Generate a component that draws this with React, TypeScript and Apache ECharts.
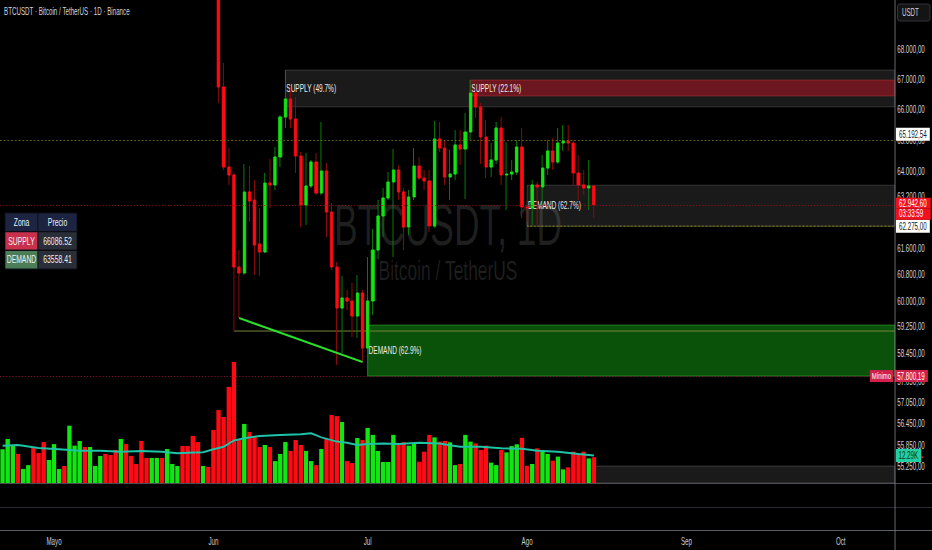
import React, { useEffect, useRef } from 'react';
import * as echarts from 'echarts';

// canvas is drawn 1500 wide and squeezed to 932 like the reference
const W = 1500;
const H = 550;
const SX = 932 / W;
const U = (x: number) => (x * W) / 932;
const FONT = "'Liberation Sans', Arial, sans-serif";

const FIRST_DAY = '2024-04-21';
const DAY_COUNT = 174;
const MONTH_NAMES = ['Ene', 'Feb', 'Mar', 'Abr', 'Mayo', 'Jun', 'Jul', 'Ago', 'Sep', 'Oct', 'Nov', 'Dic'];

const CANDLE_START = '2024-06-02';
// [open, close, low, high]
const CANDLES: number[][] = [
  [70500, 66741, 66211, 70900],
  [66741, 64137, 64041, 67543],
  [64137, 63882, 63565, 64745],
  [63882, 61024, 59110, 63950],
  [61024, 60841, 59494, 61542],
  [60841, 63344, 60781, 64232],
  [63344, 63061, 62405, 64168],
  [63092, 61695, 60781, 63723],
  [61726, 61480, 60751, 62842],
  [61480, 63628, 61450, 63945],
  [63628, 63565, 62842, 64392],
  [63565, 64456, 63407, 64778],
  [64456, 65753, 64137, 65818],
  [65753, 66343, 65393, 67307],
  [66343, 65687, 65393, 66741],
  [65687, 64488, 63945, 66409],
  [64488, 62936, 62250, 64617],
  [62936, 63533, 62312, 64585],
  [63533, 64296, 63470, 64360],
  [64296, 63312, 63249, 64585],
  [63312, 64009, 63249, 65589],
  [64009, 62717, 61941, 64264],
  [62717, 61024, 60932, 62998],
  [61024, 59791, 58119, 61175],
  [59791, 60090, 58468, 60751],
  [60090, 60000, 59731, 60330],
  [60000, 59554, 58935, 60540],
  [59554, 60239, 58906, 60781],
  [60239, 58613, 58206, 60330],
  [58613, 60000, 57800.19, 61328],
  [60000, 61542, 59584, 62188],
  [61542, 62592, 61267, 63092],
  [62592, 63155, 61941, 63470],
  [63155, 63660, 63092, 63977],
  [63660, 64041, 61328, 64713],
  [64041, 63344, 63092, 64200],
  [63344, 62250, 61542, 63470],
  [62250, 63187, 62003, 63407],
  [63187, 64168, 63092, 64745],
  [64168, 63786, 63723, 64456],
  [63786, 63691, 63407, 64041],
  [63691, 62281, 62095, 64041],
  [62281, 65036, 62219, 65622],
  [65036, 64745, 64617, 65589],
  [64745, 63818, 63565, 65003],
  [63818, 63913, 63092, 64681],
  [63913, 64842, 63723, 65328],
  [64842, 64713, 64200, 65328],
  [64713, 65263, 63123, 65884],
  [65263, 66541, 65003, 66973],
  [66541, 66080, 65720, 66874],
  [66080, 65101, 64232, 66211],
  [65101, 64137, 63786, 65655],
  [64137, 64360, 63818, 64906],
  [64360, 65393, 64232, 65589],
  [65393, 63882, 63565, 65753],
  [63882, 63913, 62779, 64939],
  [63913, 63977, 63723, 64360],
  [63977, 64778, 63882, 65003],
  [64778, 62873, 62529, 65393],
  [62873, 62842, 62405, 63092],
  [62842, 63565, 62312, 63723],
  [63565, 63502, 62312, 63660],
  [63502, 64105, 62936, 64520],
  [64105, 64649, 63882, 65003],
  [64649, 64296, 64041, 65069],
  [64296, 64906, 64232, 65393],
  [64906, 64971, 64649, 65491],
  [64971, 64906, 64649, 65491],
  [64906, 63945, 63565, 65003],
  [63945, 63565, 63092, 64520],
  [63565, 63470, 63249, 64041],
  [63470, 63533, 62779, 64360],
  [63533, 62942.6, 62529, 63565],
];

// volume in thousands, from FIRST_DAY
const VOLUME_K = [
  15.1, 19.7, 16.7, 13.0, 6.3, 8.0, 15.8, 13.4, 18.3, 10.3,
  17.4, 6.3, 7.6, 25.6, 16.7, 18.8, 16.1, 16.1, 7.6, 12.1,
  13.0, 12.5, 14.8, 19.7, 17.4, 12.1, 8.5, 18.8, 11.2, 11.2,
  11.2, 11.2, 15.2, 8.5, 7.6, 16.5, 16.5, 21.0, 18.3, 7.6,
  7.2, 23.7, 32.6, 29.5, 42.9, 54.1, 19.2, 26.4, 22.8, 20.6,
  16.1, 17.0, 16.1, 9.8, 13.0, 18.3, 14.3, 19.2, 17.0, 14.3,
  9.8, 8.0, 15.2, 19.7, 30.4, 29.9, 27.3, 9.8, 8.9, 20.1,
  19.2, 24.6, 21.5, 14.3, 9.4, 9.4, 21.5, 17.0, 18.2, 16.7,
  17.7, 9.5, 14.0, 21.5, 20.4, 18.5, 18.8, 18.2, 8.0, 8.5,
  21.5, 18.5, 17.7, 14.8, 16.7, 9.1, 8.0, 14.8, 13.7, 16.5,
  17.3, 20.2, 7.7, 8.5, 15.5, 14.0, 13.0, 10.0, 11.8, 6.1,
  7.0, 14.0, 13.0, 14.0, 11.0, 11.5,
];
// up/down of the volume bars before the first visible candle
const EARLY_VOLUME_DIR = 'gggrggrrrgggrgggrgggrrrgrrrrrggrgggrrrrgrr';
// [day index, volume MA in thousands]
const VOLUME_MA: number[][] = [
  [0, 16.7], [3, 17.0], [7, 15.6], [11, 15.1], [15, 14.4], [19, 14.4], [23, 14.0],
  [27, 14.3], [31, 14.0], [34, 13.3], [36, 13.5], [39, 13.7], [41, 15.1], [43, 16.2],
  [45, 19.0], [47, 20.0], [50, 21.0], [54, 21.5], [58, 21.8], [60, 22.2], [62, 20.4],
  [65, 18.5], [67, 18.0], [69, 17.0], [71, 17.4], [74, 17.7], [77, 17.4], [81, 18.0],
  [85, 17.7], [87, 16.9], [89, 16.2], [93, 16.2], [97, 15.5], [101, 15.3], [104, 14.4],
  [108, 14.0], [112, 13.0], [115, 12.29],
];

const PRICE_TICKS = [68000, 67000, 66000, 65000, 64000, 63200, 61600, 60800, 60000,
  59250, 58450, 57650, 57050, 56450, 55850, 55250];
const PRICE_MIN = 54806;
const PRICE_MAX = 69693;
const VOLUME_AXIS_MAX = 89.4;

const SUPPLY_PRICE = 66086.52;
const DEMAND_PRICE = 63558.41;
const LAST_PRICE = 62942.6;
const LOW_PRICE = 57800.19;
const MARK_PRICE = 65192.54;
const ROUND_LEVEL = 65000;
const ZONE_FLOOR = 62275;
const COUNTDOWN = '03:33:59';

const ZONES = [
  { name: 'SUPPLY (49.7%)', from: '2024-06-15', low: SUPPLY_PRICE, high: 67307 },
  { name: 'SUPPLY (22.1%)', from: '2024-07-21', low: 66442, high: 66973 },
  { name: 'DEMAND (62.9%)', from: '2024-07-01', low: LOW_PRICE, high: 59288 },
  { name: 'DEMAND (62.7%)', from: '2024-08-01', low: ZONE_FLOOR, high: DEMAND_PRICE },
  { name: '', from: '2024-08-14', low: PRICE_MIN, high: 55270 },
];
const LEVELS = [
  { from: '2024-06-05', price: 59110 },
  { from: '2024-08-01', price: ZONE_FLOOR },
];
const TRENDLINE: [string, number][] = [['2024-06-06', 59494], ['2024-06-30', 58206]];

const GREEN = '#12e612';
const RED = '#ff0a14';
const WICK_GREEN = '#0b7a0b';
const WICK_RED = '#8c0c0c';
const OLIVE = '#77771f';
const TEAL = '#1dc4a8';
const HIDDEN_LINE = { color: 'rgba(0,0,0,0)', width: 1, type: 'solid' };

function fmtPrice(v: number) {
  const [i, d] = v.toFixed(2).split('.');
  return i.replace(/\B(?=(\d{3})+(?!\d))/g, '.') + ',' + d;
}

function buildDates() {
  const t0 = Date.parse(FIRST_DAY + 'T00:00:00Z');
  return Array.from({ length: DAY_COUNT }, (_, i) => new Date(t0 + i * 86400000).toISOString().slice(0, 10));
}

function buildOption() {
  const dates = buildDates();
  const off = dates.indexOf(CANDLE_START);
  const wickData = CANDLES.map((c, i) => [dates[off + i], c[0], c[1], c[2], c[3]]);
  const bodyData = CANDLES.map((c, i) => [dates[off + i], c[0], c[1], Math.min(c[0], c[1]), Math.max(c[0], c[1])]);
  const volData = VOLUME_K.map((v, i) => {
    const up = i < off ? EARLY_VOLUME_DIR[i] === 'g' : CANDLES[i - off][1] >= CANDLES[i - off][0];
    return { value: v, itemStyle: { color: up ? GREEN : RED } };
  });
  const lastMA = VOLUME_MA[VOLUME_MA.length - 1][1];
  const lastVol = VOLUME_K[VOLUME_K.length - 1];

  const zoneStyles = [
    { color: 'rgba(255,255,255,0.10)', borderColor: 'rgba(255,255,255,0.20)', borderWidth: 1 },
    { color: 'rgba(190,20,35,0.50)', borderColor: 'rgba(230,70,80,0.40)', borderWidth: 1 },
    { color: 'rgba(18,150,18,0.55)', borderColor: 'rgba(70,210,70,0.55)', borderWidth: 1 },
    { color: 'rgba(255,255,255,0.10)', borderColor: 'rgba(255,255,255,0.20)', borderWidth: 1 },
    { color: 'rgba(255,255,255,0.10)', borderColor: 'rgba(255,255,255,0.22)', borderWidth: 1 },
  ];
  const levelStyles = [
    { color: 'rgba(0,0,0,0)', borderColor: 'rgba(120,130,60,0.75)', borderWidth: 1 },
    { color: 'rgba(0,0,0,0)', borderColor: OLIVE, borderWidth: 1, borderType: [3, 3] },
  ];
  const markAreaData: any[] = [
    ...ZONES.map((z, i) => [
      { name: z.name, xAxis: z.from, yAxis: z.high, itemStyle: zoneStyles[i], label: { show: !!z.name } },
      { yAxis: z.low },
    ]),
    ...LEVELS.map((l, i) => [
      { xAxis: l.from, yAxis: l.price, itemStyle: levelStyles[i], label: { show: false } },
      { yAxis: l.price },
    ]),
  ];

  const tagBase = { show: true, position: 'end', distance: 2, fontSize: 10, lineHeight: 11, fontFamily: FONT };
  const markLineData: any[] = [
    [
      { coord: TRENDLINE[0], lineStyle: { color: '#2ae02a', width: 2.2, type: 'solid' }, label: { show: false } },
      { coord: TRENDLINE[1], lineStyle: { color: '#2ae02a', width: 2.2, type: 'solid' }, label: { show: false } },
    ],
    { yAxis: ROUND_LEVEL, lineStyle: { color: OLIVE, type: [3, 3], width: 1 }, label: { show: false } },
    {
      yAxis: MARK_PRICE,
      lineStyle: HIDDEN_LINE,
      label: { ...tagBase, formatter: fmtPrice(MARK_PRICE), color: '#131722', backgroundColor: '#ffffff', padding: [1, 5, 1, 5] },
    },
    {
      yAxis: ZONE_FLOOR,
      lineStyle: HIDDEN_LINE,
      label: { ...tagBase, formatter: fmtPrice(ZONE_FLOOR), color: '#131722', backgroundColor: '#ffffff', padding: [1, 5, 1, 5] },
    },
    {
      yAxis: LAST_PRICE,
      lineStyle: { color: '#a3101c', type: [2, 3], width: 1 },
      label: {
        ...tagBase,
        formatter: `{s| }\n{p|${fmtPrice(LAST_PRICE)}}\n{t|${COUNTDOWN}}`,
        rich: {
          s: { fontSize: 8, lineHeight: 8, height: 8 },
          p: { color: '#fff', backgroundColor: '#f2101e', fontSize: 10, lineHeight: 11, padding: [1, 5, 0, 5], width: 46, fontFamily: FONT },
          t: { color: '#fff', backgroundColor: '#f2101e', fontSize: 10, lineHeight: 11, padding: [0, 5, 1, 5], width: 46, fontFamily: FONT },
        },
      },
    },
    {
      yAxis: LOW_PRICE,
      lineStyle: { color: '#9a1634', type: [2, 3], width: 1 },
      label: {
        ...tagBase,
        distance: [-40, 0],
        formatter: `{m|Mínimo} {v|${fmtPrice(LOW_PRICE)}}`,
        rich: {
          m: { color: '#fff', backgroundColor: '#d41f4b', fontSize: 9.5, lineHeight: 11, padding: [1, 3, 1, 3], fontFamily: FONT },
          v: { color: '#fff', backgroundColor: '#d41f4b', fontSize: 10, lineHeight: 11, padding: [1, 5, 1, 4], fontFamily: FONT },
        },
      },
    },
  ];

  // graphic: title, watermark, table, frame lines
  const tx = U(5), tw1 = U(33), tw2 = U(39), ty = 213, rh = 18.7;
  const tableRows = [['Zona', 'Precio'], ['SUPPLY', SUPPLY_PRICE.toFixed(2)], ['DEMAND', DEMAND_PRICE.toFixed(2)]];
  const cellFill = [['#1c2442', '#1c2442'], ['#c8304c', '#2a2e38'], ['#4a7d58', '#2a2e38']];
  const tableEls: any[] = [];
  tableRows.forEach((row, r) => {
    row.forEach((txt, c) => {
      const x = c === 0 ? tx : tx + tw1;
      const w = c === 0 ? tw1 : tw2;
      const y = ty + r * rh;
      tableEls.push({
        type: 'rect', z: 100, shape: { x, y, width: w, height: rh },
        style: { fill: cellFill[r][c], stroke: '#0c0e14', lineWidth: 1.2 },
      });
      tableEls.push({
        type: 'text', z: 101, x: x + w / 2, y: y + rh / 2,
        style: { text: txt, fill: '#eef0f4', fontSize: 11, fontFamily: FONT, align: 'center', verticalAlign: 'middle' },
      });
    });
  });

  const hLine = (y: number, color: string) => ({
    type: 'line', z: 50, shape: { x1: 0, y1: y, x2: W, y2: y }, style: { stroke: color, lineWidth: 1 },
  });

  const graphic: any[] = [
    {
      type: 'text', z: 0, x: U(448), y: 225,
      style: { text: 'BTCUSDT, 1D', fill: 'rgba(255,255,255,0.12)', fontSize: 57, fontFamily: FONT, align: 'center', verticalAlign: 'middle' },
    },
    {
      type: 'text', z: 0, x: U(448), y: 270,
      style: { text: 'Bitcoin / TetherUS', fill: 'rgba(255,255,255,0.12)', fontSize: 28, fontFamily: FONT, align: 'center', verticalAlign: 'middle' },
    },
    {
      type: 'text', z: 100, x: U(4), y: 11.5,
      style: { text: 'BTCUSDT · Bitcoin / TetherUS · 1D · Binance', fill: '#d1d4dc', fontSize: 10, fontFamily: FONT, align: 'left', verticalAlign: 'middle' },
    },
    ...tableEls,
    hLine(483.5, '#5b5e66'),
    hLine(507.5, '#34373e'),
    hLine(530.5, '#72757d'),
    {
      type: 'line', z: 50, shape: { x1: 1440.5, y1: 0, x2: 1440.5, y2: H }, style: { stroke: '#7c7f88', lineWidth: 1 },
    },
    {
      type: 'rect', z: 100, shape: { x: U(897.5), y: 4, width: U(32.5), height: 17, r: 3 },
      style: { fill: '#141414', stroke: '#3d3f45', lineWidth: 1 },
    },
    {
      type: 'text', z: 101, x: U(902), y: 12.5,
      style: { text: 'USDT', fill: '#d1d4dc', fontSize: 10, fontFamily: FONT, align: 'left', verticalAlign: 'middle' },
    },
  ];

  return {
    animation: false,
    backgroundColor: '#000000',
    textStyle: { fontFamily: FONT },
    graphic,
    grid: [
      { left: 0, right: 60, top: 0, bottom: 67, containLabel: false, outerBoundsMode: 'none' },
      { left: 0, right: 60, top: 283, bottom: 67, containLabel: false, outerBoundsMode: 'none' },
    ],
    xAxis: [
      {
        type: 'category', gridIndex: 0, data: dates, boundaryGap: true,
        axisLine: { show: false }, axisTick: { show: false }, splitLine: { show: false },
        axisLabel: {
          interval: (_: number, v: string) => v.slice(8) === '01',
          formatter: (v: string) => MONTH_NAMES[Number(v.slice(5, 7)) - 1],
          color: '#c9ccd4', fontSize: 10, margin: 53, fontFamily: FONT,
        },
      },
      {
        type: 'category', gridIndex: 1, data: dates, boundaryGap: true, show: false,
      },
    ],
    yAxis: [
      {
        type: 'log', logBase: 10, gridIndex: 0, position: 'right', min: PRICE_MIN, max: PRICE_MAX,
        axisLine: { show: false }, axisTick: { show: false }, splitLine: { show: false },
        axisLabel: {
          customValues: PRICE_TICKS, formatter: (v: number) => fmtPrice(v),
          color: '#d1d4dc', fontSize: 10, margin: 4, align: 'left', fontFamily: FONT,
        },
      },
      { type: 'value', gridIndex: 1, min: 0, max: VOLUME_AXIS_MAX, show: false, splitLine: { show: false } },
    ],
    series: [
      {
        name: 'volume', type: 'bar', xAxisIndex: 1, yAxisIndex: 1, data: volData, barWidth: 7, silent: true,
        markLine: {
          silent: true, symbol: ['none', 'none'],
          data: [{
            yAxis: lastVol, lineStyle: HIDDEN_LINE,
            label: {
              show: true, position: 'end', distance: 2, formatter: '',
              backgroundColor: '#e8101c', padding: [1, 22, 1, 22], fontSize: 10, lineHeight: 11, fontFamily: FONT,
            },
          }],
        },
      },
      {
        name: 'volumeMA', type: 'line', xAxisIndex: 1, yAxisIndex: 1, data: VOLUME_MA, showSymbol: false,
        silent: true, lineStyle: { color: TEAL, width: 2 }, z: 3,
        markLine: {
          silent: true, symbol: ['none', 'none'],
          data: [{
            yAxis: lastMA, lineStyle: HIDDEN_LINE,
            label: {
              show: true, position: 'end', distance: 2, formatter: `${lastMA.toFixed(2)}K`,
              color: '#0a2e24', backgroundColor: '#22cfa2', padding: [1, 5, 1, 4], fontSize: 10, lineHeight: 11, fontFamily: FONT,
            },
          }],
        },
      },
      {
        name: 'wicks', type: 'candlestick', xAxisIndex: 0, yAxisIndex: 0, data: wickData,
        encode: { x: 0, y: [1, 2, 3, 4] }, barWidth: 2, silent: true, clip: true,
        itemStyle: { color: 'rgba(0,0,0,0)', color0: 'rgba(0,0,0,0)', borderColor: WICK_GREEN, borderColor0: WICK_RED, borderWidth: 1.6 },
        markArea: {
          silent: true,
          label: { show: true, position: 'insideLeft', distance: 2, color: '#eaeaea', fontSize: 10.5, fontFamily: FONT },
          data: markAreaData,
        },
        markLine: {
          silent: true, symbol: ['none', 'none'], label: { show: false },
          data: markLineData,
        },
      },
      {
        name: 'bodies', type: 'candlestick', xAxisIndex: 0, yAxisIndex: 0, data: bodyData,
        encode: { x: 0, y: [1, 2, 3, 4] }, barWidth: 4.6, silent: true, clip: true,
        itemStyle: { color: GREEN, color0: RED, borderColor: GREEN, borderColor0: RED, borderWidth: 1 },
      },
    ],
  };
}

export default function App() {
  const ref = useRef<HTMLDivElement>(null);
  useEffect(() => {
    document.body.style.margin = '0';
    document.body.style.background = '#000';
    document.body.style.overflow = 'hidden';
    const chart = echarts.init(ref.current as HTMLDivElement, null, { renderer: 'svg', width: W, height: H });
    chart.setOption(buildOption() as any);
    return () => chart.dispose();
  }, []);
  return (
    <div style={{ position: 'absolute', left: 0, top: 0, width: 932, height: 550, overflow: 'hidden', background: '#000' }}>
      <div ref={ref} style={{ width: W, height: H, transform: `scaleX(${SX})`, transformOrigin: '0 0' }} />
    </div>
  );
}
